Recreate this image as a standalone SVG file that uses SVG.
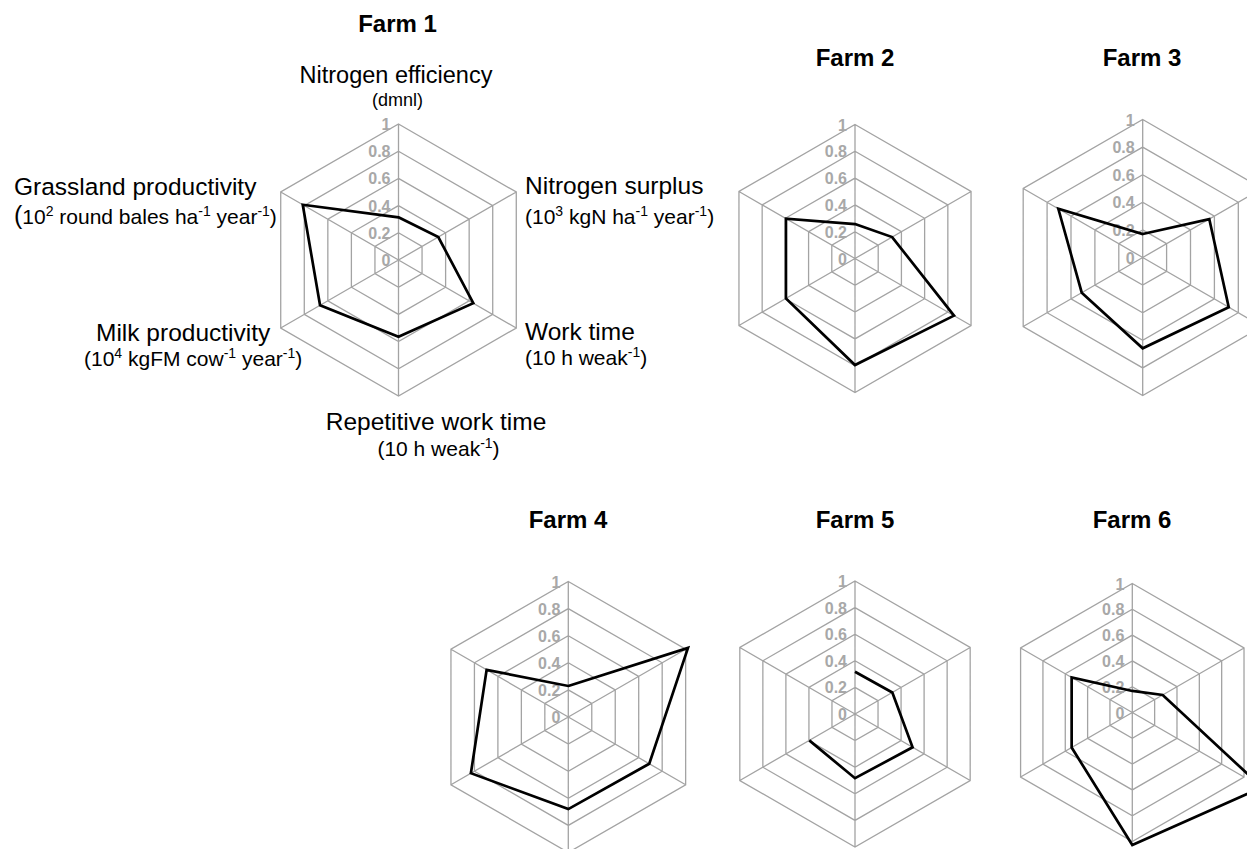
<svg xmlns="http://www.w3.org/2000/svg" xmlns:xlink="http://www.w3.org/1999/xlink" width="1247" height="849" viewBox="0 0 1247 849">
<style>
  .grid{fill:none;stroke:#a3a3a3;stroke-width:1.3;vector-effect:non-scaling-stroke}
  .data{fill:none;stroke:#000;stroke-width:2.7;stroke-linejoin:miter;vector-effect:non-scaling-stroke}
  .tick{font-family:"Liberation Sans",Arial,sans-serif;font-size:16px;font-weight:bold;fill:#a8a8a8;text-anchor:end}
  .title{font-family:"Liberation Sans",Arial,sans-serif;font-size:24px;font-weight:bold;fill:#000;text-anchor:middle}
  .lab{font-family:"Liberation Sans",Arial,sans-serif;font-size:24.5px;fill:#000}
  .sub{font-family:"Liberation Sans",Arial,sans-serif;font-size:21px;fill:#000}
  .sup{font-size:14px}
</style>
<defs>
  <g id="grid">
    <path class="grid" d="M0,-20 L17.32,-10 L17.32,10 L0,20 L-17.32,10 L-17.32,-10Z M0,-40 L34.64,-20 L34.64,20 L0,40 L-34.64,20 L-34.64,-20Z M0,-60 L51.96,-30 L51.96,30 L0,60 L-51.96,30 L-51.96,-30Z M0,-80 L69.28,-40 L69.28,40 L0,80 L-69.28,40 L-69.28,-40Z M0,-100 L86.6,-50 L86.6,50 L0,100 L-86.6,50 L-86.6,-50Z M0,0 L0,-100 M0,0 L86.6,-50 M0,0 L86.6,50 M0,0 L0,100 M0,0 L-86.6,50 M0,0 L-86.6,-50"/>
  </g>
</defs>

<g id="farm1">
  <text class="title" x="397.5" y="32">Farm 1</text>
  <use xlink:href="#grid" href="#grid" transform="translate(398.5,260) scale(1.36)"/>
  <g class="tick">
    <text x="390.5" y="130">1</text><text x="390.5" y="157.2">0.8</text><text x="390.5" y="184.4">0.6</text><text x="390.5" y="211.6">0.4</text><text x="390.5" y="238.8">0.2</text><text x="390.5" y="266">0</text>
  </g>
  <polygon class="data" transform="translate(398.5,260) scale(1.36)" points="0,-31.4 29.27,-16.9 54.99,31.75 0,56.4 -57.68,33.3 -70.41,-40.65"/>
  <g id="axis-labels">
    <text class="lab" x="396" y="83" text-anchor="middle" style="font-size:23.5px">Nitrogen efficiency</text>
    <text class="sub" x="397.5" y="106" text-anchor="middle" style="font-size:18px">(dmnl)</text>
    <text class="lab" x="525" y="194">Nitrogen surplus</text>
    <text class="sub" x="525" y="224">(10<tspan class="sup" dy="-8">3</tspan><tspan dy="8"> kgN ha</tspan><tspan class="sup" dy="-8">-1</tspan><tspan dy="8"> year</tspan><tspan class="sup" dy="-8">-1</tspan><tspan dy="8">)</tspan></text>
    <text class="lab" x="525" y="340">Work time</text>
    <text class="sub" x="525" y="365">(10 h weak<tspan class="sup" dy="-8">-1</tspan><tspan dy="8">)</tspan></text>
    <text class="lab" x="436" y="430" text-anchor="middle">Repetitive work time</text>
    <text class="sub" x="438.5" y="456" text-anchor="middle">(10 h weak<tspan class="sup" dy="-8">-1</tspan><tspan dy="8">)</tspan></text>
    <text class="lab" x="96" y="341">Milk productivity</text>
    <text class="sub" x="84" y="366">(10<tspan class="sup" dy="-8">4</tspan><tspan dy="8"> kgFM cow</tspan><tspan class="sup" dy="-8">-1</tspan><tspan dy="8"> year</tspan><tspan class="sup" dy="-8">-1</tspan><tspan dy="8">)</tspan></text>
    <text class="lab" x="14" y="195">Grassland productivity</text>
    <text class="sub" x="14" y="224"><tspan style="font-size:25px">(</tspan>10<tspan class="sup" dy="-8">2</tspan><tspan dy="8"> round bales ha</tspan><tspan class="sup" dy="-8">-1</tspan><tspan dy="8"> year</tspan><tspan class="sup" dy="-8">-1</tspan><tspan dy="8">)</tspan></text>
  </g>
</g>

<g id="farm2">
  <text class="title" x="855" y="66">Farm 2</text>
  <use xlink:href="#grid" href="#grid" transform="translate(855,258.5) scale(1.34)"/>
  <g class="tick">
    <text x="847" y="130.5">1</text><text x="847" y="157.3">0.8</text><text x="847" y="184.1">0.6</text><text x="847" y="210.9">0.4</text><text x="847" y="237.7">0.2</text><text x="847" y="264.5">0</text>
  </g>
  <polygon class="data" transform="translate(855,258.5) scale(1.34)" points="0,-25.7 27.71,-16 73.87,42.65 0,79.5 -51.53,29.75 -51.53,-29.75"/>
</g>

<g id="farm3">
  <text class="title" x="1142" y="66">Farm 3</text>
  <use xlink:href="#grid" href="#grid" transform="translate(1142.7,257.5) scale(1.38)"/>
  <g class="tick">
    <text x="1134.7" y="125.5">1</text><text x="1134.7" y="153.1">0.8</text><text x="1134.7" y="180.7">0.6</text><text x="1134.7" y="208.3">0.4</text><text x="1134.7" y="235.9">0.2</text><text x="1134.7" y="263.5">0</text>
  </g>
  <polygon class="data" transform="translate(1142.7,257.5) scale(1.38)" points="0,-17 48.24,-27.85 62.35,36 0,65.8 -44.17,25.5 -61.14,-35.3"/>
</g>

<g id="farm4">
  <text class="title" x="568" y="528">Farm 4</text>
  <use xlink:href="#grid" href="#grid" transform="translate(568.3,717) scale(1.355)"/>
  <g class="tick">
    <text x="560.3" y="587.5">1</text><text x="560.3" y="614.6">0.8</text><text x="560.3" y="641.7">0.6</text><text x="560.3" y="668.8">0.4</text><text x="560.3" y="695.9">0.2</text><text x="560.3" y="723">0</text>
  </g>
  <polygon class="data" transform="translate(568.3,717) scale(1.355)" points="0,-22.9 88.33,-51 59.75,34.5 0,68 -71.88,41.5 -60.27,-34.8"/>
</g>

<g id="farm5">
  <text class="title" x="855" y="528">Farm 5</text>
  <use xlink:href="#grid" href="#grid" transform="translate(855,714) scale(1.33)"/>
  <g class="tick">
    <text x="847" y="587">1</text><text x="847" y="613.6">0.8</text><text x="847" y="640.2">0.6</text><text x="847" y="666.8">0.4</text><text x="847" y="693.4">0.2</text><text x="847" y="720">0</text>
  </g>
  <polyline class="data" transform="translate(855,714) scale(1.33)" points="0,-31.8 28.06,-16.2 43.3,25 0,48.3 -34.38,19.85"/>
</g>

<g id="farm6">
  <text class="title" x="1132" y="528">Farm 6</text>
  <use xlink:href="#grid" href="#grid" transform="translate(1132.3,712.5) scale(1.29)"/>
  <g class="tick">
    <text x="1124.3" y="589.5">1</text><text x="1124.3" y="615.3">0.8</text><text x="1124.3" y="641.1">0.6</text><text x="1124.3" y="666.9">0.4</text><text x="1124.3" y="692.7">0.2</text><text x="1124.3" y="718.5">0</text>
  </g>
  <polygon class="data" transform="translate(1132.3,712.5) scale(1.29)" points="0,-16.7 23.56,-13.6 100.46,58 0,102.7 -47.02,27.15 -47.02,-27.15"/>
</g>

<g id="connectors"></g>
</svg>
